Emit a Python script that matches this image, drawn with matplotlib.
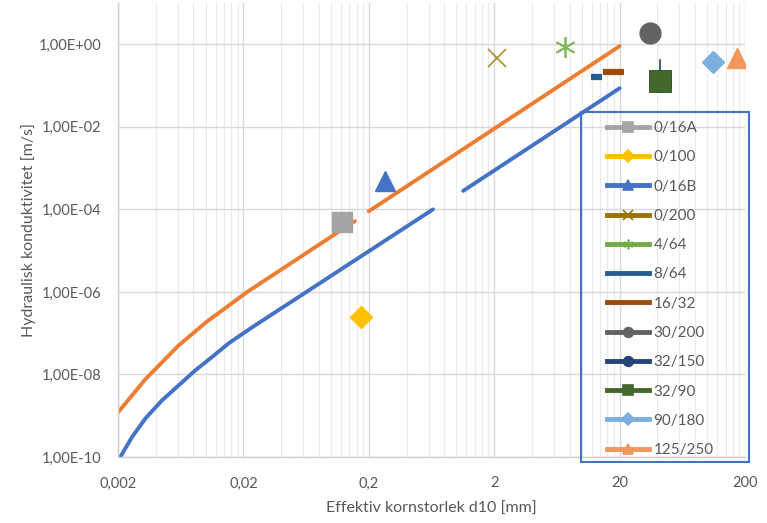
import math
import matplotlib
matplotlib.use("Agg")
import matplotlib.pyplot as plt
from matplotlib.lines import Line2D
from matplotlib.patches import Rectangle
from matplotlib.ticker import FixedLocator, FuncFormatter, NullFormatter

plt.rcParams['font.family'] = ['Lato', 'DejaVu Sans']

# ---- curves (not in legend) ----
orange1_x = [0.002, 0.003301, 0.006096, 0.01012, 0.02136, 0.155]
orange1_y = [1.202e-9, 7.61e-9, 5.07e-8, 1.857e-7, 9.89e-7, 5.2e-5]
orange2_x = [0.2, 20]
orange2_y = [9.0e-5, 0.9]
blue1_x = [0.002085, 0.002587, 0.003301, 0.004486, 0.006096, 0.008268,
           0.01124, 0.01527, 0.02342, 0.65]
blue1_y = [1.0e-10, 3.05e-10, 8.51e-10, 2.36e-9, 5.45e-9, 1.257e-8,
           2.64e-8, 5.7e-8, 1.38e-7, 1.0e-4]
blue2_x = [1.13, 20]
blue2_y = [2.8e-4, 8.6e-2]

# ---- legend series ----
names = ["0/16A", "0/100", "0/16B", "0/200", "4/64", "8/64", "16/32",
         "30/200", "32/150", "32/90", "90/180", "125/250"]
xs = [[0.122], [0.173], [0.269], [2.1], [7.3], [11.8, 14.5], [14.8, 21.7],
      [35], [42, 42], [42], [111], [173]]
ys = [[4.9e-5], [2.45e-7], [4.8e-4], [0.46], [0.85], [0.16, 0.16], [0.21, 0.21],
      [1.85], [0.127, 0.41], [0.127], [0.37], [0.46]]
colors = ["#A5A5A5", "#FFC000", "#4472C4", "#997300", "#70AD47", "#255E91",
          "#9E480E", "#636363", "#264478", "#43682B", "#7CAFDD", "#F1975A"]
markers = ["s", "D", "^", "x", "*", None, None, "o", "o", "s", "D", "^"]

x_ticks = [0.002, 0.02, 0.2, 2, 20, 200]
x_labels = ["0,002", "0,02", "0,2", "2", "20", "200"]
y_ticks = [1e-10, 1e-8, 1e-6, 1e-4, 1e-2, 1e0]

fig = plt.figure(figsize=(7.67, 5.23), dpi=100)
ax = fig.add_axes([118/767, 1-457/523, (745-118)/767, (457-3)/523])
ax.set_xscale('log')
ax.set_yscale('log')
ax.set_xlim(0.002, 200)
ax.set_ylim(1e-10, 10)

# grids
minor = [0.002*10**d*k for d in range(5) for k in range(2, 10)]
ax.xaxis.set_major_locator(FixedLocator(x_ticks))
ax.xaxis.set_minor_locator(FixedLocator(minor))
ax.xaxis.set_minor_formatter(NullFormatter())
ax.set_xticklabels(x_labels)
ax.yaxis.set_major_locator(FixedLocator(y_ticks))
ax.yaxis.set_minor_locator(FixedLocator([]))
ax.yaxis.set_major_formatter(FuncFormatter(
    lambda v, p: "1,00E{:+03d}".format(int(round(math.log10(v))))))
ax.grid(True, which='major', color='#D9D9D9', lw=1.0)
ax.grid(True, which='minor', axis='x', color='#EBEBEB', lw=0.9)
ax.set_axisbelow(True)
for s in ['top', 'right']:
    ax.spines[s].set_visible(False)
for s in ['left', 'bottom']:
    ax.spines[s].set_color('#D0D0D0')
    ax.spines[s].set_linewidth(1.0)
ax.tick_params(which='both', length=0, labelsize=10.5, labelcolor='#595959')
ax.tick_params(axis='x', pad=14)
ax.tick_params(axis='y', pad=12)

ax.set_xlabel("Effektiv kornstorlek d10 [mm]", fontsize=11.5, color='#595959', labelpad=8)
ax.set_ylabel("Hydraulisk konduktivitet [m/s]", fontsize=11.5, color='#595959', labelpad=2)

# curves
ax.plot(orange1_x, orange1_y, color='#ED7D31', lw=2.8, solid_capstyle='round',
        solid_joinstyle='round')
ax.plot(orange2_x, orange2_y, color='#ED7D31', lw=2.8, solid_capstyle='round')
ax.plot(blue1_x, blue1_y, color='#4472C4', lw=2.8, solid_capstyle='round',
        solid_joinstyle='round')
ax.plot(blue2_x, blue2_y, color='#4472C4', lw=2.8, solid_capstyle='round')

# series
msizes = {"s": 14, "D": 11, "^": 15, "x": 13, "*": 16, "o": 15}
for i, n in enumerate(names):
    m = markers[i]
    if m is None:
        ax.plot(xs[i], ys[i], color=colors[i], lw=4.5, solid_capstyle='butt')
    elif n == "32/150":
        ax.plot(xs[i], ys[i], color=colors[i], lw=1.2)
        ax.plot(xs[i][:1], ys[i][:1], ls='none', marker='o', ms=15, color=colors[i])
    else:
        kw = dict(ls='none', marker=m, ms=msizes[m], color=colors[i])
        if m == 'x':
            kw.update(mew=1.3, alpha=0.75)
        elif m == '*':
            kw.update(marker=(6, 2, 0), mew=1.3, alpha=0.85, ms=15)
        if n == "32/90":
            kw.update(ms=16.5, mec='#2F4A1E', mew=0.6)
        ax.plot(xs[i], ys[i], **kw)

# legend
handles = []
for i, n in enumerate(names):
    m = markers[i]
    if m == '*':
        m = (6, 2, 0)
    h = Line2D([0], [0], color=colors[i], lw=3.5, marker=m,
               ms=(6 if m == 'D' else 7) if m is not None else 0, mew=1.2)
    handles.append(h)
fig.patches.append(Rectangle((581/767, 1-462/523), 168/767, 350/523,
                             transform=fig.transFigure, fill=False,
                             edgecolor='#4472C4', lw=1.5))
leg = fig.legend(handles, names, loc='upper left',
                 bbox_to_anchor=(604/767, 1-118/523), bbox_transform=fig.transFigure,
                 frameon=False, fontsize=11, labelcolor='#595959',
                 handlelength=2.75, handletextpad=0.3, labelspacing=1.0,
                 borderpad=0.2, borderaxespad=0)

fig.savefig("out.png", dpi=100)
